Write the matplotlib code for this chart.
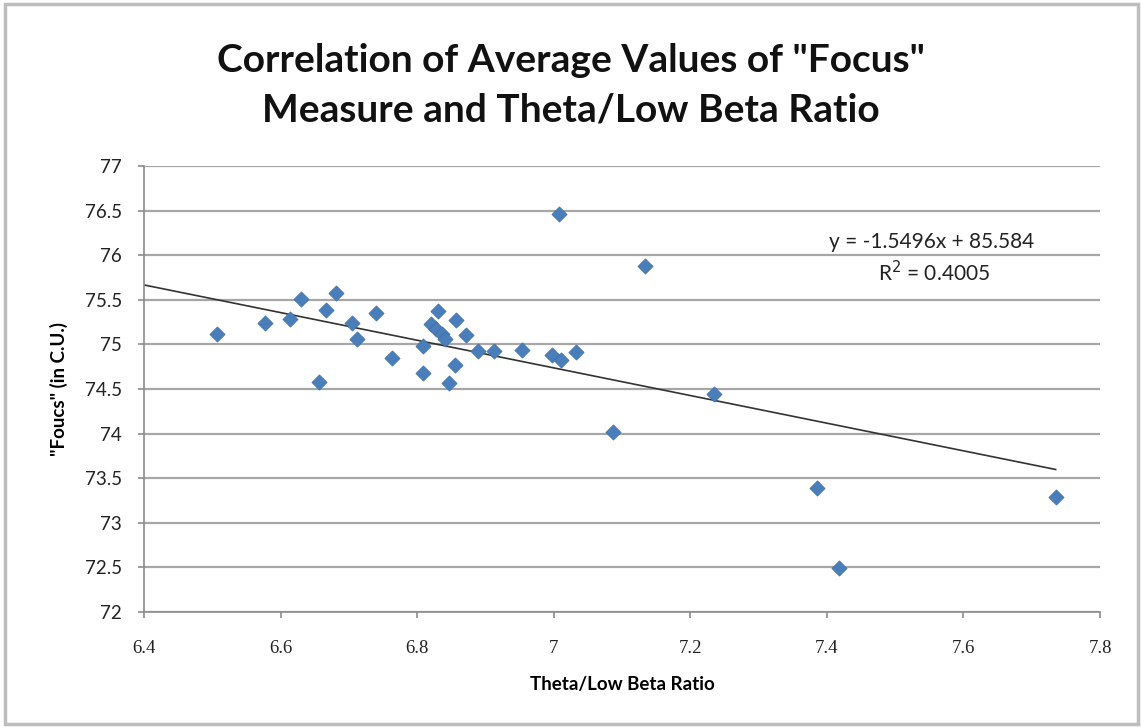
import matplotlib
matplotlib.use("Agg")
import matplotlib.pyplot as plt
import numpy as np
from matplotlib.patches import Rectangle

# values
theta_ratio = [6.507, 6.577, 6.614, 6.630, 6.666, 6.681, 6.657, 6.705, 6.712, 6.740,
               6.763, 6.809, 6.809, 6.831, 6.821, 6.828, 6.837, 6.841, 6.857, 6.856,
               6.846, 6.871, 6.889, 6.912, 6.953, 6.998, 7.011, 7.033, 7.007, 7.133,
               7.087, 7.235, 7.386, 7.418, 7.735]
focus = [75.12, 75.24, 75.28, 75.51, 75.39, 75.58, 74.58, 75.24, 75.06, 75.35,
         74.85, 74.98, 74.68, 75.37, 75.23, 75.17, 75.12, 75.06, 75.27, 74.77,
         74.57, 75.10, 74.93, 74.93, 74.94, 74.88, 74.82, 74.92, 76.46, 75.88,
         74.02, 74.44, 73.39, 72.49, 73.29]

slope = -1.5496
intercept = 85.584
r_squared = 0.4005

x_ticks = [6.4, 6.6, 6.8, 7.0, 7.2, 7.4, 7.6, 7.8]
x_tick_labels = ["6.4", "6.6", "6.8", "7", "7.2", "7.4", "7.6", "7.8"]
y_ticks = [72, 72.5, 73, 73.5, 74, 74.5, 75, 75.5, 76, 76.5, 77]
y_tick_labels = ["72", "72.5", "73", "73.5", "74", "74.5", "75", "75.5", "76", "76.5", "77"]

font = ["Lato", "DejaVu Sans"]

fig = plt.figure(figsize=(11.41, 7.28), dpi=100)
fig.patches.append(Rectangle((0.004, 0.006), 0.993, 0.988, transform=fig.transFigure,
                             fill=False, edgecolor="#bdbdbd", linewidth=2.5))

ax = fig.add_axes([0.1262, 0.1593, 0.8379, 0.6127])
ax.set_xlim(6.4, 7.8)
ax.set_ylim(72, 77)

ax.yaxis.grid(True, color="#a6a6a6", linewidth=1.6)
ax.set_axisbelow(True)
for side in ["top", "right"]:
    ax.spines[side].set_visible(False)
for side in ["left", "bottom"]:
    ax.spines[side].set_color("#8c8c8c")
    ax.spines[side].set_linewidth(1.2)

ax.set_xticks(x_ticks)
ax.set_xticklabels(x_tick_labels, fontfamily="Liberation Serif", fontsize=13.5, color="#222222")
ax.set_yticks(y_ticks)
ax.set_yticklabels(y_tick_labels, fontfamily=font, fontsize=13.5, color="#222222")
ax.tick_params(axis="both", length=4, color="#8c8c8c", width=1.2)
ax.tick_params(axis="x", pad=16)
ax.tick_params(axis="y", pad=12)

# linear trendline over the data range
xl = np.array([6.4, max(theta_ratio)])
ax.plot(xl, slope * xl + intercept, color="#333333", linewidth=1.2, zorder=2)

ax.scatter(theta_ratio, focus, marker="D", s=60, color="#4a7ebb",
           edgecolors="#3f6fa8", linewidths=0.5, zorder=3)

ax.text(7.554, 76.15, f"y = {slope}x + {intercept}", fontfamily=font, fontsize=15,
        ha="center", va="center", color="#222222")
ax.text(7.557, 75.81, f"R$^2$ = {r_squared}", fontfamily=font, fontsize=15,
        ha="center", va="center", color="#222222")

ax.set_xlabel("Theta/Low Beta Ratio", fontfamily=font, fontsize=13.5, fontweight="bold",
              labelpad=14)
ax.set_ylabel('"Foucs" (in C.U.)', fontfamily=font, fontsize=13.5, fontweight="bold",
              labelpad=12)

fig.text(0.5, 0.883, 'Correlation of Average Values of "Focus"\nMeasure and Theta/Low Beta Ratio',
         ha="center", va="center", fontfamily=font, fontsize=28, fontweight="bold",
         linespacing=1.5, color="#111111")

fig.savefig("out.png", dpi=100)
